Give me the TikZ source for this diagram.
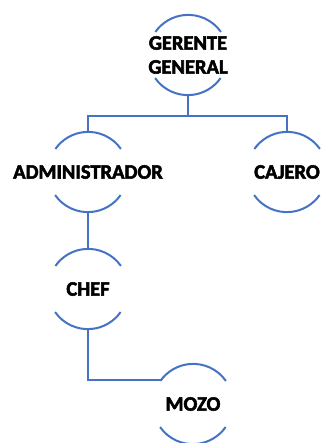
\documentclass[tikz,border=0pt]{standalone}
\usepackage{fontspec}
\setmainfont{Carlito}
\newfontfamily\orgfont[FakeBold=2.5]{Carlito Bold}
\usepackage{tikz}
\definecolor{orgblue}{HTML}{4472C4}

\begin{document}
\begin{tikzpicture}[x=1pt,y=-1pt]
  \tikzset{
    orgnode/.style={circle, minimum size=80pt, inner sep=0pt},
    every label/.style={align=center, inner sep=0pt,
      font=\fontsize{20.5}{24}\selectfont\orgfont},
    ring/.style={orgblue, line width=2pt},
    link/.style={orgblue, line width=1.8pt}
  }

  \useasboundingbox (0,0) rectangle (321,443);

  \node[orgnode, label={center:GERENTE\\GENERAL}] (ger)  at (188, 55) {};
  \node[orgnode, label={center:ADMINISTRADOR}]    (adm)  at ( 88,172) {};
  \node[orgnode, label={center:CAJERO}]           (caj)  at (287,172) {};
  \node[orgnode, label={center:CHEF}]             (chef) at ( 88,289) {};
  \node[orgnode, label={center:MOZO}]             (mozo) at (193,404) {};

  % arcs above and below each name
  \foreach \n in {ger,adm,caj,chef,mozo} {
    \draw[ring] (\n.35) arc[start angle=35, end angle=145, radius=40pt];
    \draw[ring] (\n.215) arc[start angle=215, end angle=325, radius=40pt];
  }

  \coordinate (bar) at (188,116);

  \draw[link] (ger.south) -- (bar) -| (adm.north);
  \draw[link] (bar) -| (caj.north);
  \draw[link] (adm.south) -- (chef.north);
  \draw[link] (chef.south) |- (mozo.143);

\end{tikzpicture}
\end{document}
